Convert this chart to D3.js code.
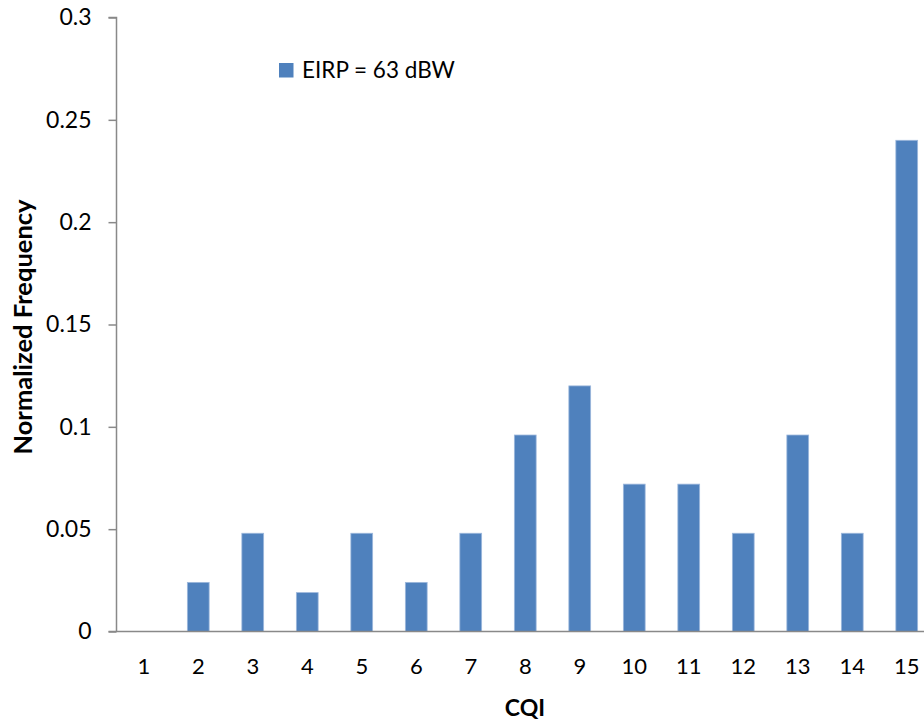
<!DOCTYPE html>
<html>
<head>
<meta charset="utf-8">
<script src="https://cdn.jsdelivr.net/npm/d3@7"></script>
<style>
  html, body { margin: 0; padding: 0; background: #fff; }
  svg { display: block; font-family: Lato, "Open Sans", sans-serif; }
</style>
</head>
<body>
<svg id="chart" width="924" height="722"></svg>
<script>
// CQI histogram data
const categories = ["1","2","3","4","5","6","7","8","9","10","11","12","13","14","15"];
const frequencies = [0, 0.024, 0.048, 0.019, 0.048, 0.024, 0.048, 0.096, 0.12, 0.072, 0.072, 0.048, 0.096, 0.048, 0.24];
const yTicks = [0, 0.05, 0.1, 0.15, 0.2, 0.25, 0.3];
const seriesName = "EIRP = 63 dBW";

const svg = d3.select("#chart");
const axisColor = "#898989";
const barColor = "#4F81BD";

const x = d3.scaleBand()
  .domain(categories)
  .range([116.5, 934])
  .paddingInner(0.6)
  .paddingOuter(0.3);

const y = d3.scaleLinear()
  .domain([0, 0.3])
  .range([631.5, 17.5]);

// Bars
svg.append("g")
  .selectAll("rect")
  .data(categories.map((c, i) => ({ c, v: frequencies[i] })))
  .join("rect")
  .attr("x", d => x(d.c))
  .attr("y", d => y(d.v))
  .attr("width", x.bandwidth())
  .attr("height", d => y(0) - y(d.v))
  .attr("fill", barColor)
  .attr("stroke", d => d.v > 0 ? "#9db8dc" : "none")
  .attr("stroke-width", 0.8);

// Y axis
const yAxis = d3.axisLeft(y)
  .tickValues(yTicks)
  .tickFormat(d => d3.format("")(+d.toFixed(2)))
  .tickSize(8)
  .tickPadding(17);

const gy = svg.append("g")
  .attr("transform", "translate(116.5,0)")
  .call(yAxis);
gy.select(".domain").attr("stroke", axisColor).attr("stroke-width", 1.5)
  .attr("d", `M-8,${y(0.3)}H0V${y(0)}`);
gy.selectAll(".tick line").attr("stroke", axisColor).attr("stroke-width", 1.5);
gy.selectAll(".tick text")
  .attr("fill", "#000")
  .style("font-size", "23px")
  .style("font-family", "Lato, sans-serif");

// X axis
const xAxis = d3.axisBottom(x).tickSize(0).tickPadding(27);
const gx = svg.append("g")
  .attr("transform", `translate(0,${y(0)})`)
  .call(xAxis);
gx.select(".domain").attr("stroke", axisColor).attr("stroke-width", 1.5)
  .attr("d", "M108.5,0H934");
gx.selectAll(".tick text")
  .attr("fill", "#000")
  .style("font-size", "22px")
  .style("font-family", "Lato, sans-serif");

// Axis titles
svg.append("text")
  .attr("transform", "translate(32,327) rotate(-90)")
  .attr("text-anchor", "middle")
  .style("font-size", "25.5px")
  .style("font-weight", "bold")
  .text("Normalized Frequency");

svg.append("text")
  .attr("x", 525)
  .attr("y", 716)
  .attr("text-anchor", "middle")
  .style("font-size", "23px")
  .style("font-weight", "bold")
  .text("CQI");

// Legend
const legend = svg.append("g").attr("transform", "translate(279,63)");
legend.append("rect")
  .attr("width", 14.5)
  .attr("height", 14.5)
  .attr("fill", barColor);
legend.append("text")
  .attr("x", 23)
  .attr("y", 15)
  .style("font-size", "22.5px")
  .text(seriesName);
</script>
</body>
</html>
